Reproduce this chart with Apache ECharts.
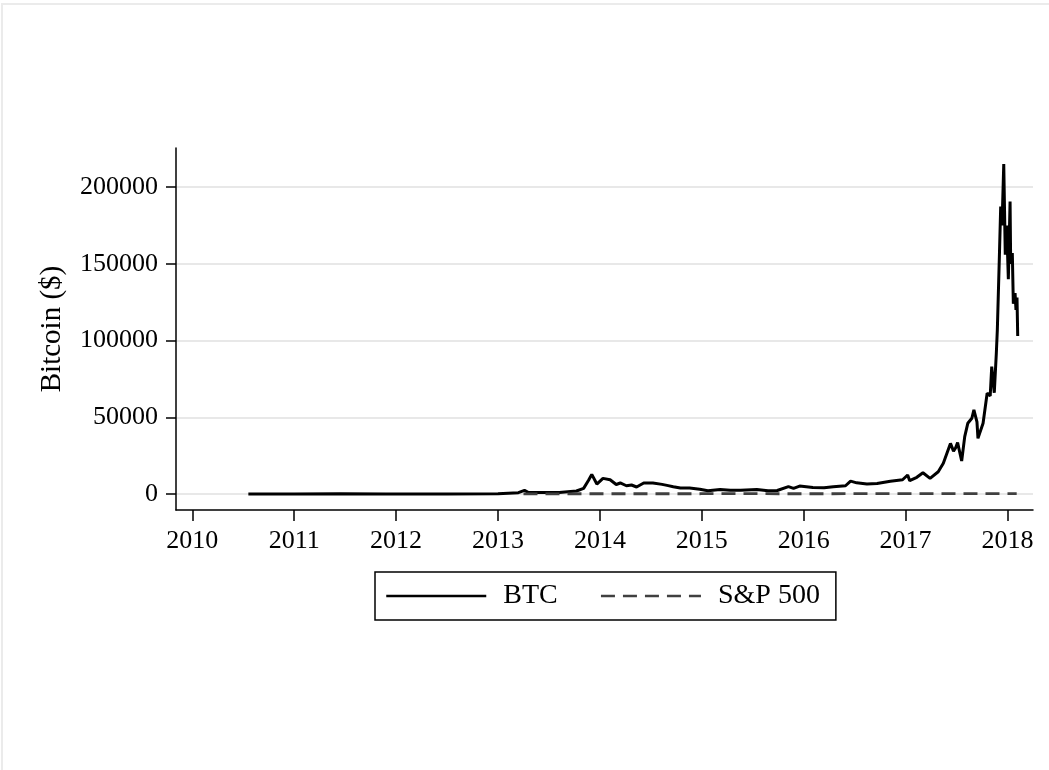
<!DOCTYPE html>
<html>
<head>
<meta charset="utf-8">
<script src="https://cdn.jsdelivr.net/npm/echarts@6/dist/echarts.min.js"></script>
<style>
  html, body { margin: 0; padding: 0; background: #fff; }
  #chart { width: 1049px; height: 770px; }
</style>
</head>
<body>
<div id="chart"></div>
<script>
// years shown on the x axis
const yearTicks = [2010, 2011, 2012, 2013, 2014, 2015, 2016, 2017, 2018];
const priceTicks = [0, 50000, 100000, 150000, 200000];

// BTC (decimal year, $)
const btcYears = [
  2010.55, 2011.0, 2011.45, 2011.9, 2012.5, 2013.0, 2013.2, 2013.26, 2013.3, 2013.6,
  2013.77, 2013.84, 2013.89, 2013.92, 2013.97, 2014.03, 2014.10, 2014.16, 2014.20, 2014.26,
  2014.31, 2014.36, 2014.43, 2014.52, 2014.61, 2014.67, 2014.72, 2014.79, 2014.88, 2014.98,
  2015.06, 2015.18, 2015.28, 2015.38, 2015.54, 2015.65, 2015.74, 2015.85, 2015.90, 2015.96,
  2016.09, 2016.20, 2016.29, 2016.41, 2016.46, 2016.52, 2016.62, 2016.72, 2016.85, 2016.97,
  2017.02, 2017.04, 2017.11, 2017.17, 2017.24, 2017.32, 2017.37, 2017.44, 2017.47, 2017.49,
  2017.51, 2017.55, 2017.58, 2017.61, 2017.65, 2017.67, 2017.70, 2017.71, 2017.76, 2017.80,
  2017.83, 2017.845, 2017.87, 2017.89, 2017.90, 2017.92, 2017.933, 2017.946, 2017.963, 2017.978,
  2017.992, 2018.008, 2018.025, 2018.031, 2018.047, 2018.057, 2018.074, 2018.083, 2018.093, 2018.10
];
const btcValues = [
  0, 5, 250, 30, 80, 200, 900, 2400, 1000, 1000,
  2000, 3700, 9100, 12800, 6500, 10200, 9300, 6200, 7200, 5400,
  5900, 4600, 7200, 7200, 6300, 5500, 4800, 3900, 4000, 3100,
  2100, 2900, 2400, 2500, 2900, 2200, 2300, 4800, 3700, 5200,
  4300, 4100, 4800, 5400, 8400, 7300, 6500, 6900, 8400, 9300,
  12400, 8700, 10900, 13900, 10200, 14500, 20000, 33000, 28000, 30000,
  33500, 21500, 37400, 46100, 49400, 54800, 47000, 36300, 46100, 65700,
  64000, 83000, 66000, 91700, 107000, 154700, 187300, 175000, 215000, 156000,
  175000, 140000, 190600, 150000, 157000, 124000, 131000, 120000, 128000, 103000
];

// S&P 500, sits on the zero line at this scale
const spYears = [2013.25, 2013.5, 2014.0, 2014.5, 2015.0, 2015.5, 2016.0, 2016.5, 2017.0, 2017.5, 2018.0, 2018.09];
const spValues = [156, 163, 184, 196, 206, 210, 194, 210, 228, 243, 270, 282];

const serif = "'Liberation Serif', 'Times New Roman', serif";

const chart = echarts.init(document.getElementById('chart'), null, { renderer: 'canvas' });

chart.setOption({
  animation: false,
  backgroundColor: '#fff',
  graphic: [{
    type: 'rect',
    shape: { x: 2, y: 4, width: 1100, height: 800 },
    style: { fill: 'none', stroke: '#ebebeb', lineWidth: 2 },
    silent: true
  }],
  grid: { left: 176, right: 16, top: 148, bottom: 260 },
  legend: {
    left: 375,
    top: 572,
    orient: 'horizontal',
    itemWidth: 100,
    itemHeight: 14,
    itemGap: 42,
    padding: [9, 16, 9, 10],
    borderColor: '#000',
    borderWidth: 1.5,
    borderRadius: 0,
    itemStyle: { opacity: 0 },
    lineStyle: { width: 2.5 },
    textStyle: { fontFamily: serif, fontSize: 28, color: '#000', padding: [0, 0, 0, 12], lineHeight: 30 },
    data: ['BTC', 'S&P 500']
  },
  xAxis: {
    type: 'value',
    min: 2009.84,
    max: 2018.25,
    axisLine: { onZero: false, lineStyle: { color: '#000', width: 1.5 } },
    axisTick: { length: 11, lineStyle: { color: '#000', width: 1.5 }, customValues: yearTicks },
    axisLabel: {
      customValues: yearTicks,
      formatter: v => String(v),
      fontFamily: serif, fontSize: 26, color: '#000', margin: 18
    },
    splitLine: { show: false }
  },
  yAxis: {
    type: 'value',
    min: -10400,
    max: 225500,
    name: 'Bitcoin ($)',
    nameLocation: 'middle',
    nameGap: 109,
    nameTextStyle: { fontFamily: serif, fontSize: 29, color: '#000' },
    axisLine: { onZero: false, lineStyle: { color: '#000', width: 1.5 } },
    axisTick: { length: 10, lineStyle: { color: '#000', width: 1.5 }, customValues: priceTicks },
    axisLabel: {
      customValues: priceTicks,
      formatter: v => String(v),
      fontFamily: serif, fontSize: 26, color: '#000', margin: 18
    },
    splitLine: { show: true, lineStyle: { color: '#e8e8e8', width: 2 } }
  },
  series: [
    {
      name: 'BTC',
      type: 'line',
      symbol: 'none',
      sampling: null,
      lineStyle: { color: '#000', width: 3 },
      itemStyle: { color: '#000' },
      data: btcYears.map((y, i) => [y, btcValues[i]])
    },
    {
      name: 'S&P 500',
      type: 'line',
      symbol: 'none',
      lineStyle: { color: '#404040', width: 2.8, type: [14, 8] },
      itemStyle: { color: '#000' },
      data: spYears.map((y, i) => [y, spValues[i]])
    }
  ]
});
</script>
</body>
</html>
